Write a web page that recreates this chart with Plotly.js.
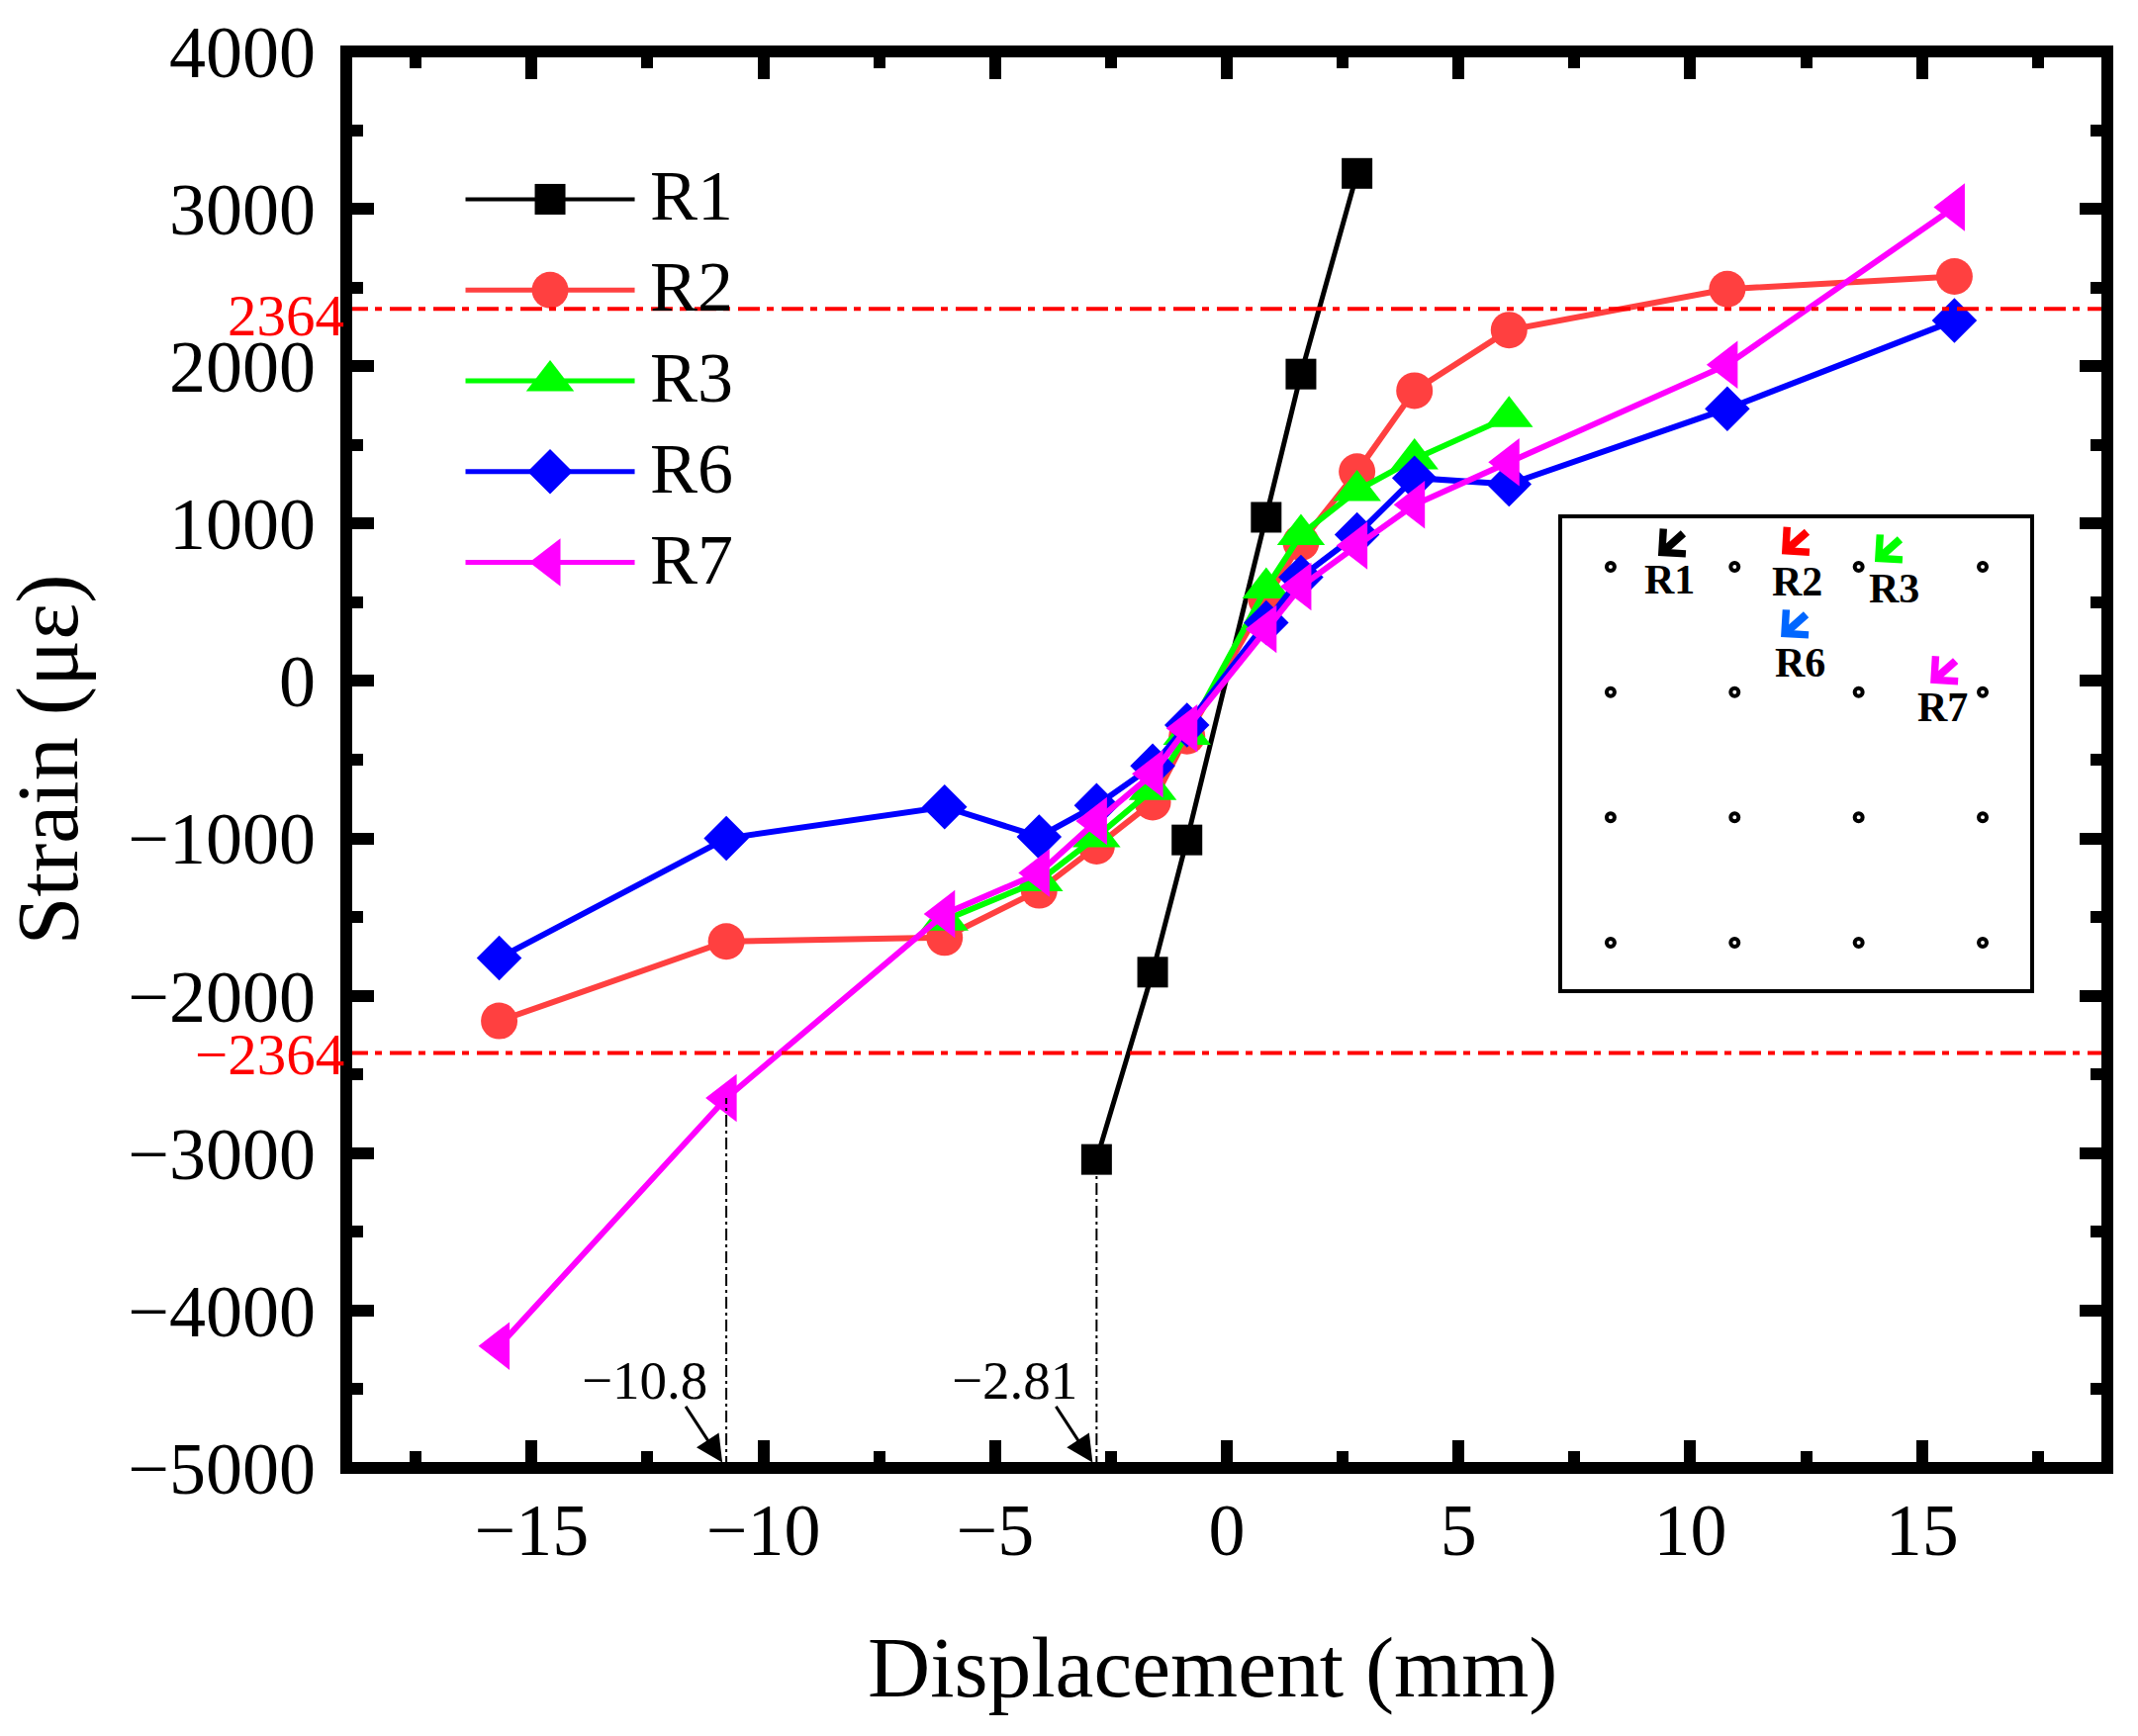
<!DOCTYPE html>
<html>
<head>
<meta charset="utf-8">
<script src="https://cdn.plot.ly/plotly-3.0.1.min.js"></script>
<style>
html, body { margin: 0; padding: 0; background: #fff; }
#graph { width: 2161px; height: 1755px; }
</style>
</head>
<body>
<div id="graph"></div>
<script>
// values
const r1X = [-2.81, -1.6, -0.86, 0.85, 1.6, 2.81];
const r1Y = [-3040, -1850, -1010, 1040, 1950, 3225];
const r2X = [-15.7, -10.8, -6.09, -4.05, -2.81, -1.6, -0.86, 0.85, 1.6, 2.81, 4.05, 6.09, 10.8, 15.7];
const r2Y = [-2160, -1655, -1630, -1330, -1050, -770, -350, 520, 880, 1330, 1845, 2230, 2490, 2570];
const r3X = [-6.09, -4.05, -2.81, -1.6, -0.86, 0.85, 1.6, 2.81, 4.05, 6.09];
const r3Y = [-1520, -1270, -990, -690, -340, 590, 930, 1210, 1410, 1680];
const r6X = [-15.7, -10.8, -6.09, -4.05, -2.81, -1.6, -0.86, 0.85, 1.6, 2.81, 4.05, 6.09, 10.8, 15.7];
const r6Y = [-1760, -1000, -800, -990, -790, -540, -280, 370, 660, 930, 1290, 1250, 1730, 2290];
const r7X = [-15.7, -10.8, -6.09, -4.05, -2.81, -1.6, -0.86, 0.85, 1.6, 2.81, 4.05, 6.09, 10.8, 15.7];
const r7Y = [-4225, -2650, -1480, -1220, -890, -590, -300, 330, 600, 860, 1120, 1390, 2010, 3010];

const seriesNames = ["R1", "R2", "R3", "R6", "R7"];
const seriesColors = ["#000000", "#ff4040", "#00ff00", "#0000ff", "#ff00ff"];
const seriesSymbols = ["square", "circle", "triangle-up", "diamond", "triangle-left"];
const seriesX = [r1X, r2X, r3X, r6X, r7X];
const seriesY = [r1Y, r2Y, r3Y, r6Y, r7Y];
const markerSizes = [31, 37, 42, 35, 42];

const limitValues = [2364, -2364];
const limitShift = [-7, -1];
const guideX = [-10.8, -2.81];
const guideY = [-2650, -3040];
const guideLabels = ["\u221210.8", "\u22122.81"];

const xTicks = [-15, -10, -5, 0, 5, 10, 15];
const xMinor = [-17.5, -12.5, -7.5, -2.5, 2.5, 7.5, 12.5, 17.5];
const yTicks = [-5000, -4000, -3000, -2000, -1000, 0, 1000, 2000, 3000, 4000];
const yMinor = [-4500, -3500, -2500, -1500, -500, 500, 1500, 2500, 3500];

// inset sketch: bolt grid is 0..3 on its own axes
const boltX = [0, 1, 2, 3];
const boltY = [0, 1, 2, 3];
const gaugeColors = ["#000000", "#ff0000", "#00ff00", "#0066ff", "#ff00ff"];
const gaugeArrowX = [0.383, 1.38, 2.13, 1.373, 2.578];
const gaugeArrowY = [-0.087, -0.10, -0.04, 0.56, 0.93];
const gaugeLabelX = [0.477, 1.506, 2.287, 1.529, 2.675];
const gaugeLabelY = [0.103, 0.118, 0.174, 0.766, 1.12];

// hand made legend, plotly caps legend markers at 16px
const legendX = [0, 0.5, 1];
const legendRow = [0, 1, 2, 3, 4];

const FONT = "Liberation Serif, Times New Roman, serif";
const minus = v => String(v).replace("-", "\u2212");

var traces = seriesNames.map((name, i) => ({
    name: name,
    x: seriesX[i],
    y: seriesY[i],
    mode: "lines+markers",
    line: { color: seriesColors[i], width: i == 0 ? 5 : 6 },
    marker: { symbol: seriesSymbols[i], color: seriesColors[i], size: markerSizes[i], line: { width: 0 } },
    cliponaxis: false,
    showlegend: false
}));

seriesNames.forEach((name, i) => traces.push({
    name: name,
    x: legendX,
    y: legendX.map(() => legendRow[i]),
    mode: "lines+markers",
    line: { color: seriesColors[i], width: i == 0 ? 4 : 5 },
    marker: { symbol: seriesSymbols[i], color: seriesColors[i], size: [0, markerSizes[i], 0], opacity: 1, line: { width: 0 } },
    xaxis: "x3",
    yaxis: "y3",
    cliponaxis: false,
    showlegend: false,
    hoverinfo: "skip"
}));

// bolt holes
var holeX = [], holeY = [];
boltY.forEach(b => boltX.forEach(a => { holeX.push(a); holeY.push(b); }));
traces.push({
    x: holeX,
    y: holeY,
    mode: "markers",
    marker: { symbol: "circle-open", size: 8, color: "#000", line: { width: 4, color: "#000" } },
    xaxis: "x2",
    yaxis: "y2",
    showlegend: false,
    hoverinfo: "skip"
});

var shapes = [];
limitValues.forEach(v => shapes.push({
    type: "line", xref: "paper", yref: "y", x0: 0, x1: 1, y0: v, y1: v,
    line: { color: "#ff0000", width: 4, dash: "22px 7px 7px 8px" }
}));
guideX.forEach((v, i) => shapes.push({
    type: "line", xref: "x", yref: "y", x0: v, x1: v, y0: -5000, y1: guideY[i],
    line: { color: "#000", width: 2, dash: "12px 4px 3px 4px" }
}));
// frame goes last, centred on the plot edge so the end ticks sit right
shapes.push({
    type: "rect", xref: "paper", yref: "paper", x0: 0, x1: 1, y0: 0, y1: 1,
    line: { color: "#000", width: 12 }
});

var annotations = [];
limitValues.forEach((v, i) => annotations.push({
    xref: "paper", yref: "y", x: 0, y: v, xanchor: "right", yanchor: "middle", xshift: 0, yshift: limitShift[i],
    text: minus(v), showarrow: false, font: { family: FONT, size: 59, color: "#ff0000" }
}));
guideX.forEach((v, i) => {
    annotations.push({
        xref: "x", yref: "y", x: v, y: -4965, xshift: -4, ax: -38, ay: -58, axref: "pixel", ayref: "pixel",
        showarrow: true, arrowhead: 2, arrowsize: 1.8, arrowwidth: 3, arrowcolor: "#000", standoff: 0, text: ""
    });
    annotations.push({
        xref: "x", yref: "y", x: v, y: -5000, xanchor: "right", yanchor: "bottom", xshift: -17, yshift: 56,
        text: guideLabels[i], showarrow: false, font: { family: FONT, size: 55, color: "#000" }
    });
});
seriesNames.forEach((n, i) => {
    annotations.push({
        xref: "x2", yref: "y2", x: gaugeArrowX[i], y: gaugeArrowY[i], ax: 27, ay: -24, axref: "pixel", ayref: "pixel",
        showarrow: true, arrowhead: 4, arrowsize: 0.82, arrowwidth: 8, arrowcolor: gaugeColors[i], standoff: 0, text: ""
    });
    annotations.push({
        xref: "x2", yref: "y2", x: gaugeLabelX[i], y: gaugeLabelY[i],
        text: "<b>" + n + "</b>", showarrow: false, font: { family: FONT, size: 42, color: "#000" }
    });
    annotations.push({
        xref: "x3", yref: "y3", x: 1.08, y: legendRow[i], xanchor: "left", yanchor: "middle", yshift: 3,
        text: n, showarrow: false, font: { family: FONT, size: 72, color: "#000" }
    });
});
// x title is an annotation, the reference has it off centre
annotations.push({
    xref: "paper", yref: "paper", x: 0.4921, y: -0.1404, xanchor: "center", yanchor: "middle",
    text: "Displacement (mm)", showarrow: false, font: { family: FONT, size: 87.5, color: "#000" }
});

var axisCommon = {
    showgrid: false, zeroline: false, showline: false, mirror: "ticks",
    ticks: "inside", tickcolor: "#000", tickwidth: 11.5, ticklen: 28,
    tickfont: { family: FONT, size: 74, color: "#000" },
    automargin: false
};

var layout = {
    width: 2161,
    height: 1755,
    autosize: false,
    paper_bgcolor: "#fff",
    plot_bgcolor: "#fff",
    margin: { l: 350, r: 31, t: 52, b: 271, pad: 0 },
    showlegend: false,
    xaxis: Object.assign({}, axisCommon, {
        range: [-19, 19], tickvals: xTicks, ticktext: xTicks.map(minus), ticklabelstandoff: 13,
        minor: { tickvals: xMinor, ticks: "inside", ticklen: 17, tickwidth: 11.5, tickcolor: "#000" }
    }),
    yaxis: Object.assign({}, axisCommon, {
        range: [-5000, 4000], tickvals: yTicks, ticktext: yTicks.map(minus), ticklabelstandoff: 30,
        minor: { tickvals: yMinor, ticks: "inside", ticklen: 17, tickwidth: 11.5, tickcolor: "#000" },
        title: { text: "Strain (\u03bc\u03b5)", font: { family: FONT, size: 88, color: "#000" }, standoff: 40 }
    }),
    xaxis2: {
        domain: [0.6904, 0.9562], anchor: "y2", range: [-0.391, 3.383], showgrid: false, zeroline: false,
        showticklabels: false, ticks: "", showline: true, mirror: true, linecolor: "#000", linewidth: 4
    },
    yaxis2: {
        domain: [0.338, 0.6704], anchor: "x2", range: [3.371, -0.387], showgrid: false, zeroline: false,
        showticklabels: false, ticks: "", showline: true, mirror: true, linecolor: "#000", linewidth: 4
    },
    xaxis3: { domain: [0.0581, 0.1830], anchor: "y3", range: [-0.1, 1.2], visible: false },
    yaxis3: { domain: [0.6072, 0.9277], anchor: "x3", range: [4.5, -0.5], visible: false },
    shapes: shapes,
    annotations: annotations
};

Plotly.newPlot("graph", traces, layout, { displayModeBar: false, responsive: false });
</script>
</body>
</html>
